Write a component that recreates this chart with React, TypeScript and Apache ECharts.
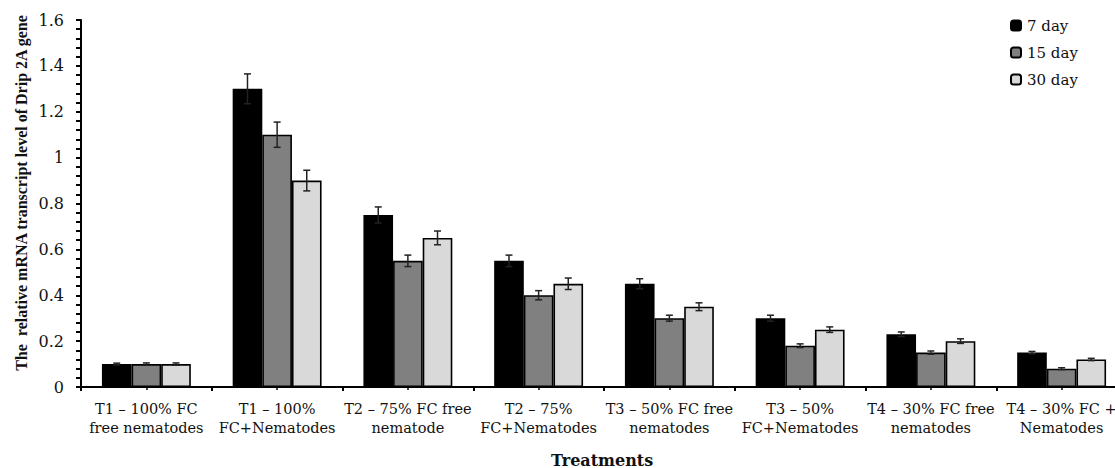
import React, { useEffect, useRef } from "react";
import * as echarts from "echarts";

const categories = [
  "T1 – 100% FC\nfree nematodes",
  "T1 – 100%\nFC+Nematodes",
  "T2 – 75% FC free\nnematode",
  "T2 – 75%\nFC+Nematodes",
  "T3 – 50% FC free\nnematodes",
  "T3 – 50%\nFC+Nematodes",
  "T4 – 30% FC free\nnematodes",
  "T4 – 30% FC +\nNematodes",
];
const seriesNames = ["7 day", "15 day", "30 day"];
const seriesColors = ["#000000", "#808080", "#d9d9d9"];
const day7 = [0.1, 1.3, 0.75, 0.55, 0.45, 0.3, 0.23, 0.15];
const day15 = [0.1, 1.1, 0.55, 0.4, 0.3, 0.18, 0.15, 0.08];
const day30 = [0.1, 0.9, 0.65, 0.45, 0.35, 0.25, 0.2, 0.12];
const err7 = [0.004, 0.065, 0.035, 0.025, 0.022, 0.013, 0.01, 0.005];
const err15 = [0.005, 0.055, 0.025, 0.02, 0.013, 0.008, 0.007, 0.004];
const err30 = [0.005, 0.045, 0.03, 0.025, 0.017, 0.012, 0.01, 0.005];
const yTicks = [0, 0.2, 0.4, 0.6, 0.8, 1, 1.2, 1.4, 1.6];

const values = [day7, day15, day30];
const errors = [err7, err15, err30];
const GAP = 0.32;

export default function App() {
  const ref = useRef<HTMLDivElement>(null);
  useEffect(() => {
    if (!ref.current) return;
    const chart = echarts.init(ref.current, null, { renderer: "svg" });
    const errData: number[][] = [];
    values.forEach((vals, s) => {
      vals.forEach((v, i) => {
        errData.push([i, v - errors[s][i], v + errors[s][i], s]);
      });
    });
    const serif = "DejaVu Serif";
    chart.setOption({
      animation: false,
      backgroundColor: "#ffffff",
      grid: { left: 81, right: 3, top: 20, bottom: 81, containLabel: false },
      legend: {
        data: seriesNames,
        orient: "vertical",
        left: 1005,
        top: 13,
        itemWidth: 10,
        itemHeight: 10,
        itemGap: 12,
        textStyle: { fontFamily: serif, fontSize: 15, color: "#111", padding: [0, 0, 0, 1] },
      },
      xAxis: [
        {
          type: "category",
          data: categories,
          boundaryGap: true,
          axisLine: { lineStyle: { color: "#000", width: 2 } },
          axisTick: { show: true, length: 4, lineStyle: { color: "#000", width: 2 } },
          axisLabel: {
            interval: 0,
            margin: 12,
            fontFamily: serif,
            fontSize: 14.5,
            lineHeight: 19,
            color: "#111",
          },
        },
        {
          type: "category",
          data: categories,
          position: "bottom",
          boundaryGap: true,
          axisLine: { show: false },
          axisTick: { show: true, alignWithLabel: true, length: 3, lineStyle: { color: "#000", width: 1.5 } },
          axisLabel: { show: false },
          splitLine: { show: false },
        },
      ],
      yAxis: {
        type: "value",
        min: 0,
        max: 1.6,
        interval: 0.2,
        axisLine: { show: true, lineStyle: { color: "#000", width: 2 } },
        axisTick: { show: true, length: 5, lineStyle: { color: "#000", width: 2 } },
        minorTick: { show: true, splitNumber: 5, length: 5, lineStyle: { color: "#000", width: 2 } },
        splitLine: { show: false },
        axisLabel: {
          margin: 17,
          fontFamily: serif,
          fontSize: 16,
          color: "#111",
          formatter: (v: number) => {
            const t = yTicks.find((x) => Math.abs(x - v) < 1e-9);
            return t === undefined ? "" : String(t);
          },
        },
      },
      graphic: [
        {
          type: "text",
          x: 21,
          y: 193,
          rotation: Math.PI / 2,
          style: {
            text: "The  relative mRNA transcript level of Drip 2A gene",
            fontFamily: "Liberation Serif",
            fontWeight: "bold",
            fontSize: 16,
            fill: "#111",
            align: "center",
            verticalAlign: "middle",
          },
        },
        {
          type: "text",
          left: 551,
          top: 452,
          style: {
            text: "Treatments",
            fontFamily: serif,
            fontWeight: "bold",
            fontSize: 16,
            fill: "#111",
          },
        },
      ],
      series: [
        ...values.map((vals, s) => ({
          name: seriesNames[s],
          type: "bar",
          data: vals,
          barGap: "0%",
          barCategoryGap: GAP * 100 + "%",
          itemStyle: { color: seriesColors[s], borderColor: "#000", borderWidth: 1.6 },
        })),
        {
          type: "custom",
          z: 10,
          data: errData,
          encode: { x: 0, y: [1, 2] },
          renderItem: (params: any, api: any) => {
            const cat = api.value(0);
            const lo = api.value(1);
            const hi = api.value(2);
            const s = api.value(3);
            const band = api.size([1, 0])[0];
            const groupW = band * (1 - GAP);
            const bw = groupW / 3;
            const p0 = api.coord([cat, lo]);
            const p1 = api.coord([cat, hi]);
            const cx = p0[0] - groupW / 2 + bw * (s + 0.5);
            const cap = 3.5;
            const st = { stroke: "#222", lineWidth: 1.5 };
            return {
              type: "group",
              children: [
                { type: "line", shape: { x1: cx, y1: p0[1], x2: cx, y2: p1[1] }, style: st },
                { type: "line", shape: { x1: cx - cap, y1: p0[1], x2: cx + cap, y2: p0[1] }, style: st },
                { type: "line", shape: { x1: cx - cap, y1: p1[1], x2: cx + cap, y2: p1[1] }, style: st },
              ],
            };
          },
        },
      ],
    });
    return () => chart.dispose();
  }, []);
  return (
    <div style={{ position: "fixed", left: 0, top: 0, width: 1115, height: 468, overflow: "hidden", background: "#fff" }}>
      <div ref={ref} style={{ width: 1130, height: 468 }} />
    </div>
  );
}
